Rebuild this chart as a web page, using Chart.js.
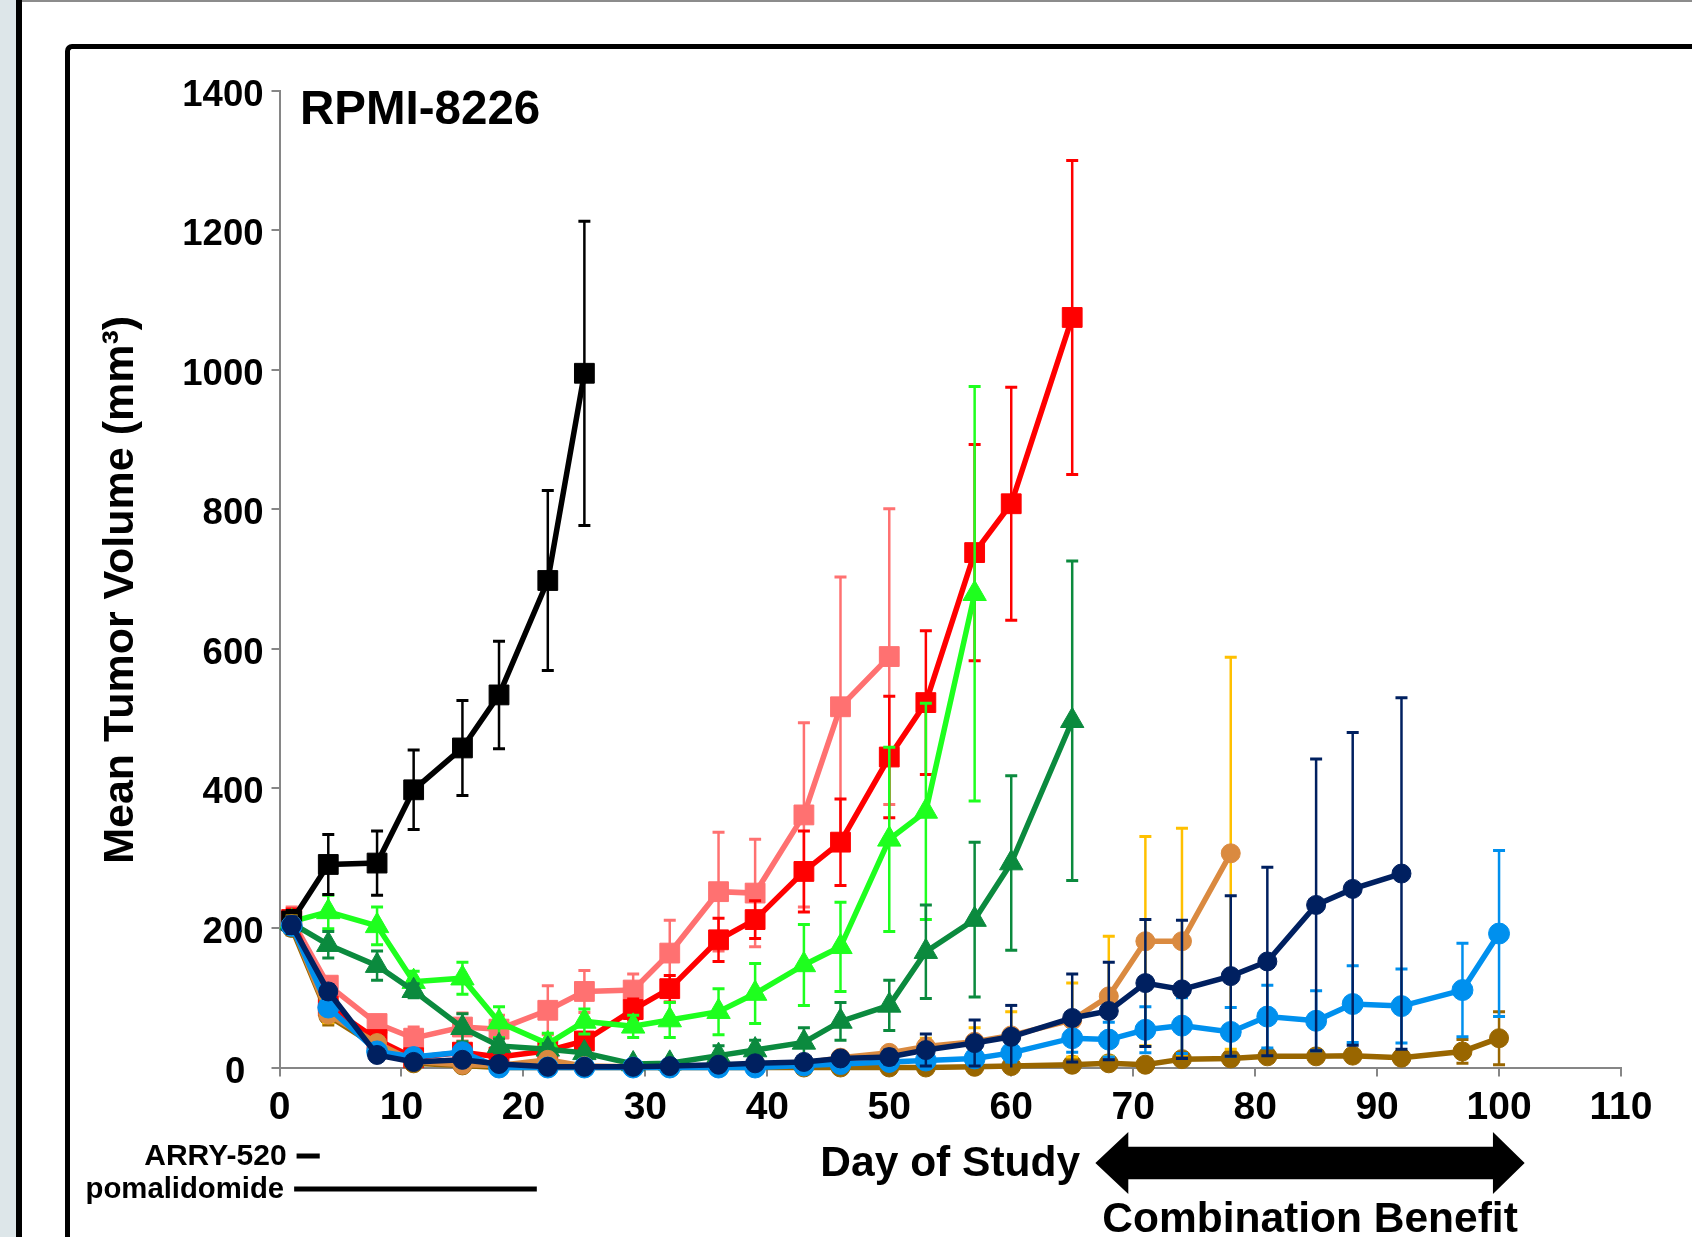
<!DOCTYPE html>
<html>
<head>
<meta charset="utf-8">
<script src="https://cdn.jsdelivr.net/npm/chart.js@4/dist/chart.umd.min.js"></script>
<style>
  html, body { margin: 0; padding: 0; background: #fff; }
  body { width: 1692px; height: 1237px; position: relative; overflow: hidden; }
  #strip { position: absolute; left: 0; top: 0; width: 16px; height: 1237px; background: #dde6e9; }
  #outer { position: absolute; left: 16px; top: 0; width: 6px; height: 1237px; background: #000; }
  #topline { position: absolute; left: 22px; top: 0; right: 0; height: 2px; background: #8c8c8c; }
  #frame { position: absolute; left: 65px; top: 44px; width: 1700px; height: 1300px;
           border-left: 5.5px solid #000; border-top: 5.5px solid #000; border-top-left-radius: 7px; }
  #c { position: absolute; left: 0; top: 0; }
</style>
</head>
<body>
<div id="strip"></div>
<div id="outer"></div>
<div id="topline"></div>
<div id="frame"></div>
<canvas id="c" width="1692" height="1237"></canvas>
<script>
// ---------------- data ----------------
const titleText = 'RPMI-8226';
const yTitle = 'Mean Tumor Volume (mm\u00B3)\u2002';
const xTitle = 'Day of Study';
const xTicksMax = 110;
const yTicksMax = 1400;

const vehicleDays = [1, 4, 8, 11, 15, 18, 22, 25];
const vehicleMean = [210, 291, 293, 398, 458, 534, 698, 995];
const vehicleSem  = [15, 43, 46, 57, 68, 77, 129, 218];

const arryLowDays = [1, 4, 8, 11, 15, 18, 22, 25, 29, 32, 36, 39, 43, 46, 50];
const arryLowMean = [212, 118, 63, 42, 58, 55, 82, 109, 111, 164, 252, 250, 362, 517, 589];
const arryLowSem  = [18, 8, 12, 16, 20, 20, 35, 30, 23, 47, 85, 77, 132, 186, 212];

const arryHighDays = [1, 4, 8, 11, 15, 18, 22, 25, 29, 32, 36, 39, 43, 46, 50, 53, 57, 60, 65];
const arryHighMean = [212, 88, 40, 14, 22, 15, 24, 38, 83, 113, 183, 212, 281, 323, 445, 523, 738, 808, 1075];
const arryHighSem  = [15, 8, 10, 6, 8, 6, 10, 12, 15, 19, 31, 27, 58, 62, 87, 103, 155, 167, 225];

const pomLowDays = [1, 4, 8, 11, 15, 18, 22, 25, 29, 32, 36, 39, 43, 46, 50, 53, 57];
const pomLowMean = [209, 223, 203, 123, 128, 65, 34, 66, 59, 68, 80, 106, 147, 173, 327, 367, 679];
const pomLowSem  = [15, 24, 27, 15, 23, 22, 15, 18, 16, 25, 33, 43, 58, 64, 132, 155, 297];

const pomHighDays = [1, 4, 8, 11, 15, 18, 22, 25, 29, 32, 36, 39, 43, 46, 50, 53, 57, 60, 65];
const pomHighMean = [207, 176, 146, 110, 57, 31, 26, 21, 5, 6, 17, 25, 36, 66, 89, 166, 212, 293, 497];
const pomHighSem  = [12, 19, 21, 10, 20, 10, 8, 6, 4, 4, 14, 14, 21, 27, 36, 67, 111, 125, 229];

const comboTanDays = [1, 4, 8, 11, 15, 18, 22, 25, 29, 32, 36, 39, 43, 46, 50, 53, 57, 60, 65, 68, 71, 74, 78];
const comboTanMean = [205, 76, 35, 9, 4, 3, 11, 2, 1, 1, 2, 4, 6, 14, 21, 30, 37, 46, 68, 102, 181, 181, 307];
const comboTanSem  = [12, 12, 8, 4, 3, 2, 4, 2, 1, 1, 2, 3, 4, 6, 8, 12, 20, 34, 53, 86, 150, 162, 281];

const comboNavyDays = [1, 4, 8, 11, 15, 18, 22, 25, 29, 32, 36, 39, 43, 46, 50, 53, 57, 60, 65, 68, 71, 74, 78, 81, 85, 88, 92];
const comboNavyMean = [204, 109, 18, 8, 11, 5, 1, 1, 1, 2, 4, 6, 8, 13, 15, 25, 35, 44, 71, 81, 121, 112, 131, 152, 233, 256, 278];
const comboNavySem  = [12, 10, 6, 3, 4, 2, 1, 1, 1, 1, 2, 3, 5, 6, 10, 23, 33, 45, 63, 70, 91, 99, 115, 135, 209, 224, 252];

const comboBlueDays = [1, 4, 8, 11, 15, 18, 22, 25, 29, 32, 36, 39, 43, 46, 50, 53, 57, 60, 65, 68, 71, 74, 78, 81, 85, 88, 92, 97, 100];
const comboBlueMean = [203, 86, 23, 15, 22, 0, 0, 0, 0, 0, 0, 0, 3, 5, 8, 10, 13, 21, 42, 40, 54, 60, 51, 73, 67, 91, 88, 111, 192];
const comboBlueSem  = [10, 8, 5, 4, 5, 0, 0, 0, 0, 0, 0, 0, 2, 3, 4, 6, 10, 13, 20, 25, 33, 40, 35, 45, 43, 55, 53, 67, 119];

const comboBrownDays = [1, 4, 8, 11, 15, 18, 22, 25, 29, 32, 36, 39, 43, 46, 50, 53, 57, 60, 65, 68, 71, 74, 78, 81, 85, 88, 92, 97, 100];
const comboBrownMean = [200, 74, 30, 6, 3, 0, 0, 0, 0, 0, 0, 0, 0, 0, 0, 0, 1, 2, 4, 6, 4, 12, 13, 16, 16, 17, 14, 23, 42];
const comboBrownSem  = [10, 13, 6, 3, 2, 0, 0, 0, 0, 0, 0, 0, 0, 0, 0, 0, 1, 2, 3, 4, 3, 5, 5, 6, 6, 6, 5, 17, 38];

// dosing schedule bars (days) and combination-benefit arrow (days)
const arryLabel = 'ARRY-520';
const arryDays = [1.4, 3.3];
const pomLabel = 'pomalidomide';
const pomDays = [1.2, 21.1];
const benefitLabel = 'Combination Benefit';
const benefitDays = [66.9, 69.6, 99.5, 102.1];

// ---------------- chart ----------------
const FONT = '"Liberation Sans", Arial, Helvetica, sans-serif';
Chart.defaults.font.family = FONT;
Chart.defaults.color = '#000';

function pts(days, vals) { return days.map((d, i) => ({ x: d, y: vals[i] })); }

function series(label, days, mean, sem, color, errColor, style, radius, order) {
  return {
    label, data: pts(days, mean), errors: sem, errorColor: errColor,
    borderColor: color, backgroundColor: color, pointBackgroundColor: color, pointBorderColor: color,
    borderWidth: 5.5, pointBorderWidth: 1, pointStyle: style, pointRadius: radius, pointHoverRadius: radius,
    tension: 0, clip: false, order
  };
}

const datasets = [
  series('Vehicle', vehicleDays, vehicleMean, vehicleSem, '#000000', '#000000', 'rect', 14, 4),
  series('ARRY-520 low', arryLowDays, arryLowMean, arryLowSem, '#ff7171', '#ff7171', 'rect', 14, 8),
  series('ARRY-520 high', arryHighDays, arryHighMean, arryHighSem, '#ff0000', '#ff0000', 'rect', 14, 7),
  series('pomalidomide low', pomLowDays, pomLowMean, pomLowSem, '#1eff1e', '#1eff1e', 'triangle', 13.5, 6),
  series('pomalidomide high', pomHighDays, pomHighMean, pomHighSem, '#0b8a3e', '#0b8a3e', 'triangle', 13.5, 5),
  series('Combination A', comboTanDays, comboTanMean, comboTanSem, '#da8a40', '#ffc000', 'circle', 9.5, 2),
  series('Combination B', comboNavyDays, comboNavyMean, comboNavySem, '#002060', '#002060', 'circle', 9.5, 0),
  series('Combination C', comboBlueDays, comboBlueMean, comboBlueSem, '#0090ee', '#0090ee', 'circle', 10.5, 1),
  series('Combination D', comboBrownDays, comboBrownMean, comboBrownSem, '#996600', '#996600', 'circle', 9.5, 3)
];

const errorBars = {
  id: 'errorBars',
  beforeDatasetDraw(chart, args) {
    const ds = chart.data.datasets[args.index];
    if (!ds.errors) return;
    const xs = chart.scales.x, ys = chart.scales.y, ctx = chart.ctx;
    ctx.save();
    ctx.strokeStyle = ds.errorColor;
    ctx.lineCap = 'butt';
    ds.data.forEach((p, i) => {
      const e = ds.errors[i];
      if (!e) return;
      const x = xs.getPixelForValue(p.x);
      const yT = ys.getPixelForValue(p.y + e);
      const clipped = p.y - e < 0;
      const yB = ys.getPixelForValue(Math.max(p.y - e, 0));
      ctx.lineWidth = 2.5;
      ctx.beginPath(); ctx.moveTo(x, yT); ctx.lineTo(x, yB); ctx.stroke();
      ctx.lineWidth = 3;
      ctx.beginPath();
      ctx.moveTo(x - 6, yT); ctx.lineTo(x + 6, yT);
      if (!clipped) { ctx.moveTo(x - 6, yB); ctx.lineTo(x + 6, yB); }
      ctx.stroke();
    });
    ctx.restore();
  }
};

const annotations = {
  id: 'annotations',
  afterDraw(chart) {
    const { ctx, chartArea } = chart;
    const xs = chart.scales.x;
    ctx.save();
    ctx.fillStyle = '#000';
    ctx.strokeStyle = '#000';
    // panel title
    ctx.font = 'bold 47.5px ' + FONT;
    ctx.textAlign = 'left';
    ctx.textBaseline = 'alphabetic';
    ctx.fillText(titleText, chartArea.left + 20.5, chartArea.top + 33.3);

    // dosing bars with labels
    ctx.textAlign = 'right';
    ctx.textBaseline = 'middle';
    ctx.lineWidth = 5;
    [[arryLabel, arryDays, 1156, 30], [pomLabel, pomDays, 1189, 29.3]].forEach(([lab, days, y, fs]) => {
      const x0 = xs.getPixelForValue(days[0]);
      const x1 = xs.getPixelForValue(days[1]);
      ctx.beginPath(); ctx.moveTo(x0, y); ctx.lineTo(x1, y); ctx.stroke();
      ctx.font = 'bold ' + fs + 'px ' + FONT;
      ctx.fillText(lab, x0 - 10, y + 1);
    });

    // double-headed arrow
    const [a0, a1, a2, a3] = benefitDays.map(d => xs.getPixelForValue(d));
    const cy = 1163, sh = 16.3, hh = 31;
    ctx.beginPath();
    ctx.moveTo(a0, cy);
    ctx.lineTo(a1, cy - hh); ctx.lineTo(a1, cy - sh);
    ctx.lineTo(a2, cy - sh); ctx.lineTo(a2, cy - hh);
    ctx.lineTo(a3, cy);
    ctx.lineTo(a2, cy + hh); ctx.lineTo(a2, cy + sh);
    ctx.lineTo(a1, cy + sh); ctx.lineTo(a1, cy + hh);
    ctx.closePath();
    ctx.fill();

    ctx.font = 'bold 42.5px ' + FONT;
    ctx.textAlign = 'center';
    ctx.textBaseline = 'alphabetic';
    ctx.fillText(benefitLabel, (a0 + a3) / 2, 1231.5);
    ctx.restore();
  }
};

new Chart(document.getElementById('c'), {
  type: 'line',
  data: { datasets },
  options: {
    responsive: false,
    animation: false,
    devicePixelRatio: 1,
    layout: { padding: { left: 0, top: 90.7, right: 71, bottom: 0 } },
    plugins: { legend: { display: false }, tooltip: { enabled: false }, title: { display: false } },
    scales: {
      x: {
        type: 'linear', min: 0, max: xTicksMax,
        ticks: { stepSize: 10, padding: 8, font: { size: 39, weight: 'bold' }, color: '#000', maxRotation: 0, autoSkip: false },
        grid: { drawOnChartArea: false, drawTicks: true, tickLength: 9, color: '#868686', lineWidth: 2 },
        border: { display: true, color: '#868686', width: 2 },
        title: { display: true, text: xTitle, font: { size: 42.5, weight: 'bold' }, color: '#000', padding: { top: 0, bottom: 47 } },
        afterFit(scale) { scale.height = 1237 - 1067.5; }
      },
      y: {
        type: 'linear', min: 0, max: yTicksMax,
        ticks: { stepSize: 200, padding: 8, labelOffset: 5, font: { size: 36.5, weight: 'bold' }, color: '#000',
                 callback: v => (v === 0 ? '0\u2002' : String(v)) },
        grid: { drawOnChartArea: false, drawTicks: true, tickLength: 8, color: '#868686', lineWidth: 2 },
        border: { display: true, color: '#868686', width: 2 },
        title: { display: true, text: yTitle, font: { size: 43, weight: 'bold' }, color: '#000', padding: { top: 95, bottom: 0 } },
        afterFit(scale) { scale.width = 279.5; }
      }
    }
  },
  plugins: [errorBars, annotations]
});
</script>
</body>
</html>
